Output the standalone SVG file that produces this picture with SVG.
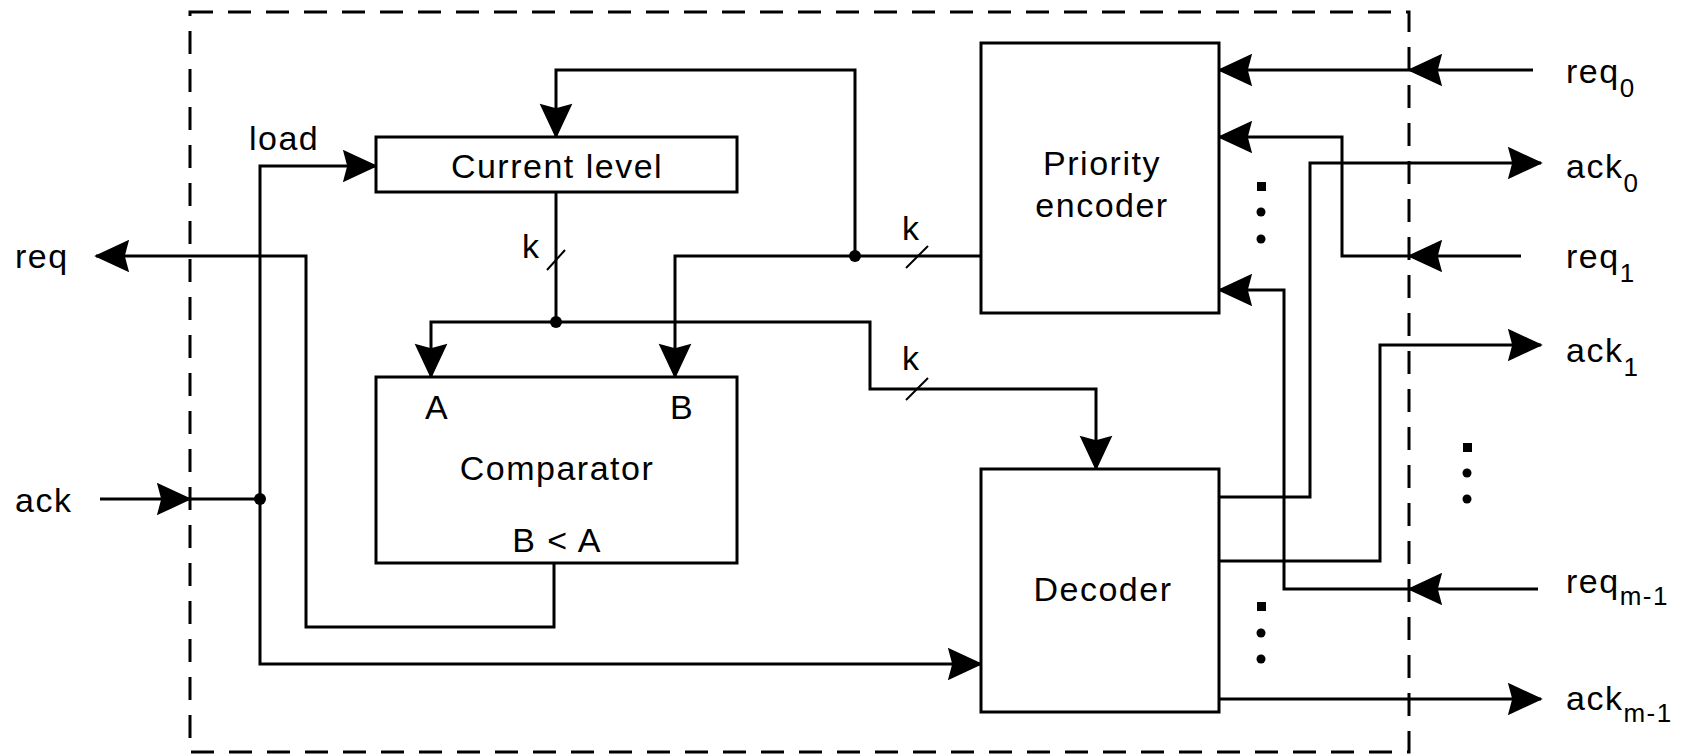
<svg xmlns="http://www.w3.org/2000/svg" width="1690" height="755" viewBox="0 0 1690 755">
<style>
.box{fill:#fff;stroke:#000;stroke-width:3}
.w{fill:none;stroke:#000;stroke-width:3}
.a{fill:none;stroke:#000;stroke-width:3;marker-end:url(#ah)}
.s{fill:none;stroke:#000;stroke-width:2}
.t{font-family:"Liberation Sans",Arial,sans-serif;font-size:34px;fill:#000;letter-spacing:1.5px}
.c{text-anchor:middle}
.sub{font-size:26px}
.dash{fill:none;stroke:#000;stroke-width:3;stroke-dasharray:23 15}
</style>
<defs>
<marker id="ah" markerUnits="userSpaceOnUse" markerWidth="40" markerHeight="40" refX="0" refY="0" orient="auto" overflow="visible">
<path d="M0,0 L-32,-15 L-28,0 L-32,15 Z" fill="#000" stroke="#000" stroke-width="1.5" stroke-linejoin="miter"/>
</marker>
</defs>
<rect class="dash" x="190" y="12" width="1219" height="740"/>

<g id="connectors">
<path class="a" d="M855,256 V70 H556 V137"/>
<path class="a" d="M981,256 H675 V377"/>
<line class="s" x1="906" y1="268" x2="928" y2="246"/>
<path class="w" d="M556,192 V322"/>
<line class="s" x1="547" y1="270" x2="565" y2="250"/>
<path class="a" d="M556,322 H431 V377"/>
<path class="a" d="M556,322 H870 V389 H1096 V469"/>
<line class="s" x1="906" y1="400" x2="928" y2="378"/>
<path class="a" d="M554,563 V627 H306 V256 H96"/>
<path class="a" d="M100,499 H190"/>
<path class="w" d="M190,499 H260"/>
<path class="a" d="M260,499 V166 H376"/>
<path class="a" d="M260,499 V664 H981"/>
<path class="a" d="M1533,70 H1409"/>
<path class="a" d="M1409,70 H1219"/>
<path class="a" d="M1521,256 H1409"/>
<path class="a" d="M1409,256 H1342 V137 H1219"/>
<path class="a" d="M1538,589 H1409"/>
<path class="a" d="M1409,589 H1284 V290 H1219"/>
<path class="a" d="M1219,497 H1310 V163 H1541"/>
<path class="a" d="M1219,561 H1380 V345 H1541"/>
<path class="a" d="M1219,699 H1541"/>
<circle cx="855" cy="256" r="6"/>
<circle cx="556" cy="322" r="6"/>
<circle cx="260" cy="499" r="6"/>
</g>

<g id="current-level">
<rect class="box" x="376" y="137" width="361" height="55"/>
<text class="t c" x="557" y="178">Current level</text>
</g>

<g id="comparator">
<rect class="box" x="376" y="377" width="361" height="186"/>
<text class="t" x="425" y="419">A</text>
<text class="t" x="670" y="419">B</text>
<text class="t c" x="557" y="480">Comparator</text>
<text class="t c" x="557" y="552">B &lt; A</text>
</g>

<g id="priority-encoder">
<rect class="box" x="981" y="43" width="238" height="270"/>
<text class="t c" x="1102" y="175">Priority</text>
<text class="t c" x="1102" y="217">encoder</text>
</g>

<g id="decoder">
<rect class="box" x="981" y="469" width="238" height="243"/>
<text class="t c" x="1103" y="601">Decoder</text>
</g>

<g id="labels">
<text class="t" x="249" y="150">load</text>
<text class="t" x="15" y="268">req</text>
<text class="t" x="15" y="512">ack</text>
<text class="t" x="522" y="258">k</text>
<text class="t" x="902" y="240">k</text>
<text class="t" x="902" y="370">k</text>
<text class="t" x="1566" y="83">req<tspan class="sub" dy="14">0</tspan></text>
<text class="t" x="1566" y="178">ack<tspan class="sub" dy="14">0</tspan></text>
<text class="t" x="1566" y="268">req<tspan class="sub" dy="14">1</tspan></text>
<text class="t" x="1566" y="362">ack<tspan class="sub" dy="14">1</tspan></text>
<text class="t" x="1566" y="593">req<tspan class="sub" dy="12">m-1</tspan></text>
<text class="t" x="1566" y="710">ack<tspan class="sub" dy="12">m-1</tspan></text>
</g>

<g id="ellipses">
<rect x="1257" y="182" width="9" height="9"/>
<circle cx="1261" cy="212" r="4.5"/>
<circle cx="1261" cy="239" r="4.5"/>
<rect x="1463" y="443" width="9" height="9"/>
<circle cx="1467" cy="473" r="4.5"/>
<circle cx="1467" cy="499" r="4.5"/>
<rect x="1257" y="602" width="9" height="9"/>
<circle cx="1261" cy="633" r="4.5"/>
<circle cx="1261" cy="659" r="4.5"/>
</g>
</svg>
